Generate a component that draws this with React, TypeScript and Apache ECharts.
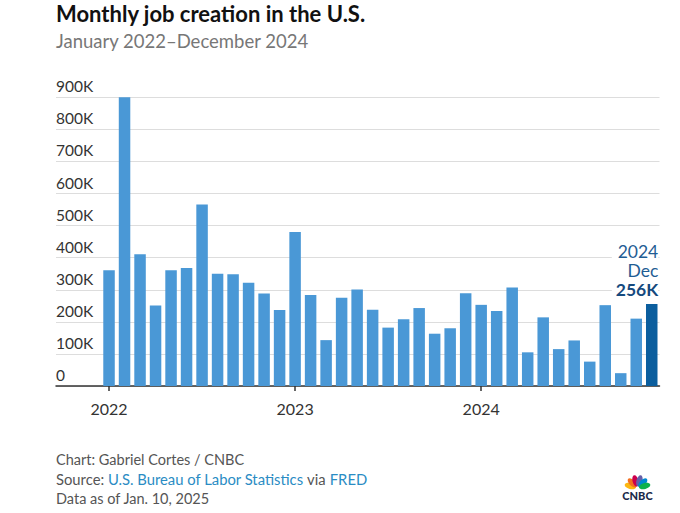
import React, { useEffect, useRef } from "react";
import * as echarts from "echarts";

const years = ["2022", "2023", "2024"];
const monthNames = ["Jan", "Feb", "Mar", "Apr", "May", "Jun", "Jul", "Aug", "Sep", "Oct", "Nov", "Dec"];
// Monthly change in nonfarm payrolls, thousands (Jan 2022 – Dec 2024)
const jobs2022 = [361, 903, 411, 251, 361, 368, 566, 350, 348, 322, 288, 237];
const jobs2023 = [480, 284, 143, 275, 301, 238, 182, 208, 243, 163, 180, 289];
const jobs2024 = [253, 234, 307, 105, 214, 115, 142, 76, 252, 40, 210, 256];
const yTickValues = [0, 100, 200, 300, 400, 500, 600, 700, 800, 900];
const yearTickIndex = [0, 12, 24];

const FONT = "Lato, 'Open Sans', sans-serif";

export default function App() {
  const ref = useRef<HTMLDivElement>(null);

  useEffect(() => {
    if (!ref.current) return;
    const chart = echarts.init(ref.current, undefined, { renderer: "svg" });

    const all = [...jobs2022, ...jobs2023, ...jobs2024];
    const categories: string[] = [];
    years.forEach((y) => monthNames.forEach((m) => categories.push(`${m} ${y}`)));
    const lastIdx = all.length - 1;
    const lastYear = years[years.length - 1];
    const lastMonth = monthNames[lastIdx % 12];

    const data = all.map((v, i) => {
      if (i === lastIdx) {
        return {
          value: [i, v],
          name: categories[i],
          itemStyle: { color: "#0b5e9e" },
          label: {
            show: true,
            position: "top",
            distance: 5,
            align: "right",
            offset: [6.5, 0],
            backgroundColor: "#ffffff",
            padding: [2, 0, 0, 4],
            formatter: () => `{a|${lastYear}}\n{a|${lastMonth}}\n{b|${v}K}`,
            rich: {
              a: { fontFamily: FONT, fontSize: 17.5, color: "#1f5d94", lineHeight: 19, align: "right" },
              b: { fontFamily: FONT, fontSize: 17.5, fontWeight: "bold", color: "#154a7e", lineHeight: 19, align: "right" },
            },
          },
        };
      }
      return { value: [i, v], name: categories[i] };
    });

    // CNBC peacock
    const featherColors = ["#fcb711", "#f37021", "#cc004c", "#6460aa", "#0089d0", "#0db14b"];
    const bx = 637.5;
    const by = 488;
    const feathers = featherColors.map((c, k) => {
      const deg = 165 - k * 30;
      const th = (deg * Math.PI) / 180;
      const r = 7.4;
      return {
        type: "ellipse",
        x: bx + r * Math.cos(th),
        y: by - r * Math.sin(th),
        rotation: th - Math.PI / 2,
        shape: { cx: 0, cy: 0, rx: 3, ry: 5.8 },
        style: { fill: c },
        silent: true,
      };
    });

    chart.setOption({
      animation: false,
      backgroundColor: "#ffffff",
      textStyle: { fontFamily: FONT },
      grid: { left: 56, right: 20.5, top: 97.3, bottom: 127, containLabel: false },
      xAxis: {
        type: "value",
        min: -3.42,
        max: 35.5,
        splitLine: { show: false },
        axisLine: { show: true, onZero: false, lineStyle: { color: "#333333", width: 1.5 } },
        axisTick: {
          show: true,
          customValues: yearTickIndex,
          length: 5,
          lineStyle: { color: "#333333", width: 1.5 },
        },
        axisLabel: {
          show: true,
          customValues: yearTickIndex,
          margin: 14,
          fontSize: 16,
          color: "#333333",
          fontFamily: FONT,
          formatter: (v: number) => years[Math.round(v / 12)] ?? "",
        },
      },
      yAxis: {
        type: "value",
        min: 0,
        max: 900,
        interval: 100,
        axisLine: { show: false },
        axisTick: { show: false },
        splitLine: { show: true, lineStyle: { color: "#dddddd", width: 1 } },
        axisLabel: {
          inside: true,
          margin: 0,
          verticalAlign: "bottom",
          padding: [0, 0, 3, 0],
          fontSize: 15.5,
          color: "#333333",
          fontFamily: FONT,
          formatter: (v: number) => (yTickValues.includes(v) ? (v === 0 ? "0" : `${v}K`) : ""),
        },
      },
      series: [
        {
          type: "bar",
          barWidth: 11.5,
          itemStyle: { color: "#4a98d6" },
          data,
          z: 3,
        },
      ],
      graphic: [
        {
          type: "text",
          x: 56,
          y: 13.5,
          style: {
            text: "Monthly job creation in the U.S.",
            font: `bold 22px ${FONT}`,
            fill: "#111111",
            verticalAlign: "middle",
          },
        },
        {
          type: "text",
          x: 56,
          y: 40.5,
          style: {
            text: "January 2022\u2013December 2024",
            font: `18.5px ${FONT}`,
            fill: "#777777",
            verticalAlign: "middle",
          },
        },
        {
          type: "text",
          x: 56,
          y: 459,
          style: {
            text: "Chart: Gabriel Cortes / CNBC",
            font: `14.5px ${FONT}`,
            fill: "#555555",
            verticalAlign: "middle",
          },
        },
        {
          type: "text",
          x: 56,
          y: 478.5,
          style: {
            text: "Source: {l|U.S. Bureau of Labor Statistics} via {l|FRED}",
            font: `14.8px ${FONT}`,
            fill: "#555555",
            verticalAlign: "middle",
            rich: { l: { fill: "#2a8cc4", font: `14.8px ${FONT}` } },
          },
        },
        {
          type: "text",
          x: 56,
          y: 498,
          style: {
            text: "Data as of Jan. 10, 2025",
            font: `14.5px ${FONT}`,
            fill: "#555555",
            verticalAlign: "middle",
          },
        },
        ...feathers,
        {
          type: "text",
          x: bx,
          y: 495,
          style: {
            text: "CNBC",
            font: `900 11px ${FONT}`,
            fill: "#1b2a4a",
            align: "center",
            verticalAlign: "middle",
          },
        },
      ],
    });

    return () => chart.dispose();
  }, []);

  return (
    <div
      ref={ref}
      style={{ position: "fixed", left: 0, top: 0, width: 680, height: 513, background: "#fff" }}
    />
  );
}
